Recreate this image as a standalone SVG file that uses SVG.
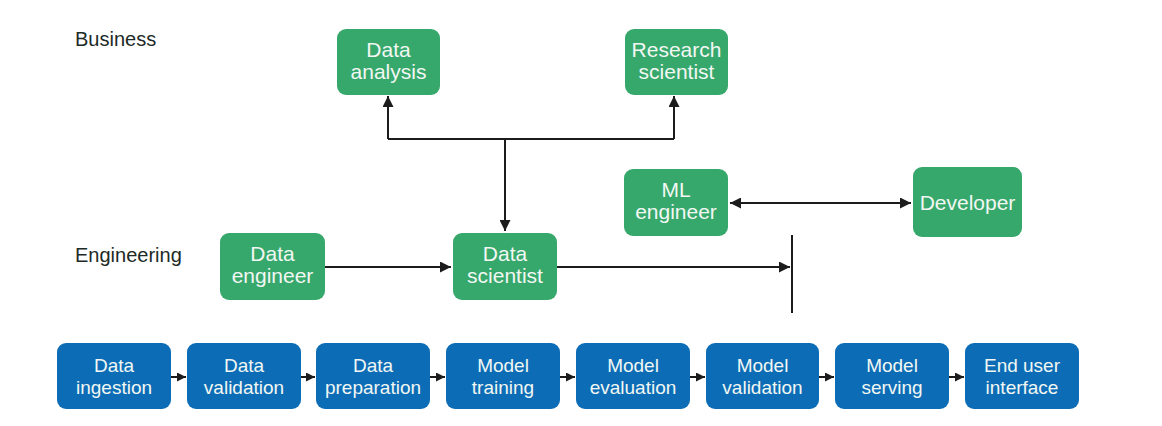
<svg xmlns="http://www.w3.org/2000/svg" width="1162" height="426" viewBox="0 0 1162 426">
  <defs>
    <marker id="ah" viewBox="0 0 10 10" refX="10" refY="5" markerWidth="5.5" markerHeight="5.5" orient="auto-start-reverse" markerUnits="strokeWidth">
      <path d="M0,0 L10,5 L0,10 z" fill="#1c1c1c"/>
    </marker>
    <marker id="ahs" viewBox="0 0 10 10" refX="10" refY="5" markerWidth="4.5" markerHeight="4.5" orient="auto" markerUnits="strokeWidth">
      <path d="M0,0 L10,5 L0,10 z" fill="#1c1c1c"/>
    </marker>
    <style>
      .g { fill: #37a86c; }
      .b { fill: #0c6db6; }
      .t { font-family: "Liberation Sans", Arial, sans-serif; fill: #f2f7f3; text-anchor: middle; }
      .gt { font-size: 21px; }
      .bt { font-size: 19px; }
      .lab { font-family: "Liberation Sans", Arial, sans-serif; font-size: 20px; fill: #1d2a26; }
      .c { stroke: #1c1c1c; stroke-width: 2; fill: none; }
    </style>
  </defs>
  <rect width="1162" height="426" fill="#ffffff"/>

  <text class="lab" x="75" y="46">Business</text>
  <text class="lab" x="75" y="262">Engineering</text>

  <g id="connectors">
    <path class="c" d="M505,139 L505,231" marker-end="url(#ah)"/>
    <path class="c" d="M388,139 L674,139"/>
    <path class="c" d="M388,139 L388,96" marker-end="url(#ah)"/>
    <path class="c" d="M674,139 L674,96" marker-end="url(#ah)"/>
    <path class="c" d="M325,267 L451,267" marker-end="url(#ah)"/>
    <path class="c" d="M557,267 L790,267" marker-end="url(#ah)"/>
    <path class="c" d="M792,235 L792,313"/>
    <path class="c" d="M730,203 L911,203" marker-start="url(#ah)" marker-end="url(#ah)"/>
    <path class="c" d="M171,377 L186,377" marker-end="url(#ahs)"/>
    <path class="c" d="M301,377 L315,377" marker-end="url(#ahs)"/>
    <path class="c" d="M430,377 L445,377" marker-end="url(#ahs)"/>
    <path class="c" d="M560,377 L575,377" marker-end="url(#ahs)"/>
    <path class="c" d="M690,377 L705,377" marker-end="url(#ahs)"/>
    <path class="c" d="M819,377 L834,377" marker-end="url(#ahs)"/>
    <path class="c" d="M949,377 L964,377" marker-end="url(#ahs)"/>
  </g>

  <g id="data-analysis">
    <rect class="g" x="337" y="29" width="103" height="66" rx="9"/>
    <text class="t gt" x="388.5" y="57">Data</text>
    <text class="t gt" x="388.5" y="79">analysis</text>
  </g>
  <g id="research-scientist">
    <rect class="g" x="625" y="29" width="103" height="66" rx="9"/>
    <text class="t gt" x="676.5" y="57">Research</text>
    <text class="t gt" x="676.5" y="79">scientist</text>
  </g>
  <g id="ml-engineer">
    <rect class="g" x="624" y="169" width="104" height="67" rx="9"/>
    <text class="t gt" x="676" y="197">ML</text>
    <text class="t gt" x="676" y="219">engineer</text>
  </g>
  <g id="developer">
    <rect class="g" x="913" y="167" width="109" height="70" rx="9"/>
    <text class="t gt" x="967.5" y="210">Developer</text>
  </g>
  <g id="data-engineer">
    <rect class="g" x="220" y="233" width="105" height="67" rx="9"/>
    <text class="t gt" x="272.5" y="261">Data</text>
    <text class="t gt" x="272.5" y="283">engineer</text>
  </g>
  <g id="data-scientist">
    <rect class="g" x="453" y="233" width="104" height="67" rx="9"/>
    <text class="t gt" x="505" y="261">Data</text>
    <text class="t gt" x="505" y="283">scientist</text>
  </g>

  <g id="data-ingestion">
    <rect class="b" x="57" y="343" width="114" height="66" rx="9"/>
    <text class="t bt" x="114" y="372">Data</text>
    <text class="t bt" x="114" y="394">ingestion</text>
  </g>
  <g id="data-validation">
    <rect class="b" x="187" y="343" width="114" height="66" rx="9"/>
    <text class="t bt" x="244" y="372">Data</text>
    <text class="t bt" x="244" y="394">validation</text>
  </g>
  <g id="data-preparation">
    <rect class="b" x="316" y="343" width="114" height="66" rx="9"/>
    <text class="t bt" x="373" y="372">Data</text>
    <text class="t bt" x="373" y="394">preparation</text>
  </g>
  <g id="model-training">
    <rect class="b" x="446" y="343" width="114" height="66" rx="9"/>
    <text class="t bt" x="503" y="372">Model</text>
    <text class="t bt" x="503" y="394">training</text>
  </g>
  <g id="model-evaluation">
    <rect class="b" x="576" y="343" width="114" height="66" rx="9"/>
    <text class="t bt" x="633" y="372">Model</text>
    <text class="t bt" x="633" y="394">evaluation</text>
  </g>
  <g id="model-validation">
    <rect class="b" x="706" y="343" width="113" height="66" rx="9"/>
    <text class="t bt" x="762.5" y="372">Model</text>
    <text class="t bt" x="762.5" y="394">validation</text>
  </g>
  <g id="model-serving">
    <rect class="b" x="835" y="343" width="114" height="66" rx="9"/>
    <text class="t bt" x="892" y="372">Model</text>
    <text class="t bt" x="892" y="394">serving</text>
  </g>
  <g id="end-user-interface">
    <rect class="b" x="965" y="343" width="114" height="66" rx="9"/>
    <text class="t bt" x="1022" y="372">End user</text>
    <text class="t bt" x="1022" y="394">interface</text>
  </g>
</svg>
